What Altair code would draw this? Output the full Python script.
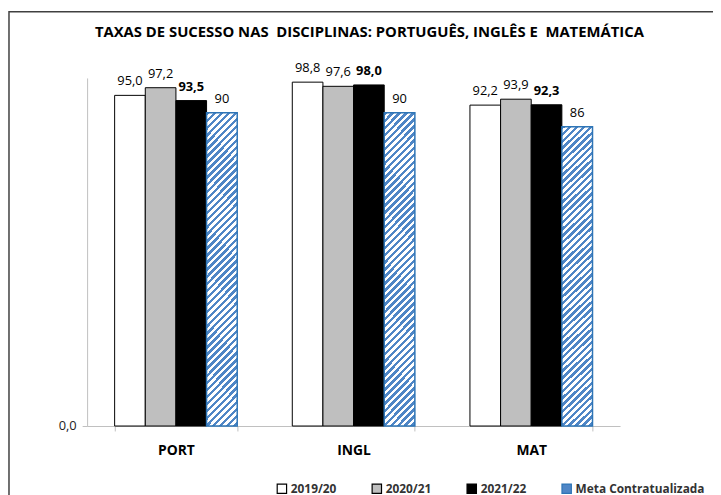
import altair as alt
import pandas as pd

subjects = ["PORT", "INGL", "MAT"]
series = ["2019/20", "2020/21", "2021/22", "Meta Contratualizada"]
v_2019_20 = [95.0, 98.8, 92.2]
v_2020_21 = [97.2, 97.6, 93.9]
v_2021_22 = [93.5, 98.0, 92.3]
v_meta = [90, 90, 86]

rows = []
for vals, s in zip([v_2019_20, v_2020_21, v_2021_22, v_meta], series):
    for subj, v in zip(subjects, vals):
        rows.append({"disciplina": subj, "serie": s, "valor": v})
df = pd.DataFrame(rows)

FONT = "Open Sans"
BLUE = "#2e75b6"
STRIPE = "#4f86c6"
W, H = 539, 352

# diagonal hatch as a striped linear gradient (bbox-relative)
bw, bh = 31.0, 310.0
a, b = 1 / bh, 1 / bw
c = (a + b) / (a * a + b * b)
period = 7.0 / (bw + bh)
stops = []
t = 0.0
while t < 1.0:
    t1 = min(t + period * 0.5, 1.0)
    t2 = min(t + period, 1.0)
    stops += [{"offset": round(t, 5), "color": STRIPE},
              {"offset": round(t1, 5), "color": STRIPE},
              {"offset": round(t1, 5), "color": "white"},
              {"offset": round(t2, 5), "color": "white"}]
    t += period
hatch = {"gradient": "linear", "x1": 0, "y1": 0, "x2": a * c, "y2": b * c, "stops": stops}

is_meta = "datum.serie === 'Meta Contratualizada'"

x_enc = alt.X("disciplina:N", sort=subjects, title=None,
              scale=alt.Scale(paddingInner=0.31, paddingOuter=0.155),
              axis=alt.Axis(labelAngle=0, labelFont=FONT, labelFontSize=14, labelFontWeight="bold",
                            labelColor="black", domainColor="#bfbfbf", tickColor="#bfbfbf",
                            tickSize=5, labelPadding=13, tickBand="extent"))
xo_enc = alt.XOffset("serie:N", scale=alt.Scale(domain=series, paddingInner=0, paddingOuter=0))
y_enc = alt.Y("valor:Q", title=None, scale=alt.Scale(domain=[0, 100]),
              axis=alt.Axis(values=[0], grid=False, labelExpr="replace(format(datum.value,'.1f'),'.',',')",
                            labelFont=FONT, labelFontSize=13, labelColor="#222", domainColor="#bfbfbf",
                            tickColor="#bfbfbf", tickSize=5, labelPadding=6))

leg = alt.Legend(title=None, orient="none", legendX=191, legendY=409, direction="horizontal",
                 symbolType="square", symbolSize=90, symbolStrokeWidth=1.2, labelFont=FONT,
                 labelFontSize=12, labelFontWeight="bold", labelColor="#333", columnPadding=32,
                 labelOffset=3)

bars = alt.Chart(df).mark_bar(strokeWidth=1).encode(
    x=x_enc, xOffset=xo_enc, y=y_enc,
    fill=alt.condition(is_meta, alt.value(hatch),
                       alt.Fill("serie:N", scale=alt.Scale(domain=series,
                                range=["white", "#bfbfbf", "black", STRIPE]), legend=leg)),
    stroke=alt.Stroke("serie:N", scale=alt.Scale(domain=series,
                      range=["black", "black", "black", BLUE]), legend=leg),
    strokeWidth=alt.condition(is_meta, alt.value(1.5), alt.value(1)),
)

lab_expr = f"{is_meta} ? format(datum.valor,'d') : replace(format(datum.valor,'.1f'),'.',',')"


def label_layer(test, weight):
    return alt.Chart(df).transform_filter(test).transform_calculate(lab=lab_expr).mark_text(
        baseline="bottom", dy=-7, font=FONT, fontSize=13, color="black", fontWeight=weight
    ).encode(
        x=alt.X("disciplina:N", sort=subjects), xOffset=alt.XOffset("serie:N"),
        y="valor:Q", text="lab:N",
    )


labels_normal = label_layer("datum.serie !== '2021/22'", "normal")
labels_bold = label_layer("datum.serie === '2021/22'", "bold")

frame = alt.Chart(pd.DataFrame({"k": [0]})).mark_rect(fill=None, stroke="#404040", strokeWidth=1.5).encode(
    x=alt.value(-79), x2=alt.value(W + 300), y=alt.value(-67), y2=alt.value(H + 300)
)

title_text = "TAXAS DE SUCESSO NAS \u00a0DISCIPLINAS: PORTUGUÊS, INGLÊS E \u00a0MATEMÁTICA"

chart = alt.layer(frame, bars, labels_normal, labels_bold).properties(
    width=W, height=H,
    title=alt.Title(title_text,
                    font=FONT, fontSize=15, fontWeight="bold", color="black", anchor="middle",
                    dx=16, frame="group", baseline="alphabetic", offset=-41),
    autosize=alt.AutoSizeParams(type="none"),
    padding={"left": 80, "top": 68, "right": 94, "bottom": 67},
).configure_view(stroke=None)

chart.save("out.html", embed_options={"renderer": "svg", "actions": False})
